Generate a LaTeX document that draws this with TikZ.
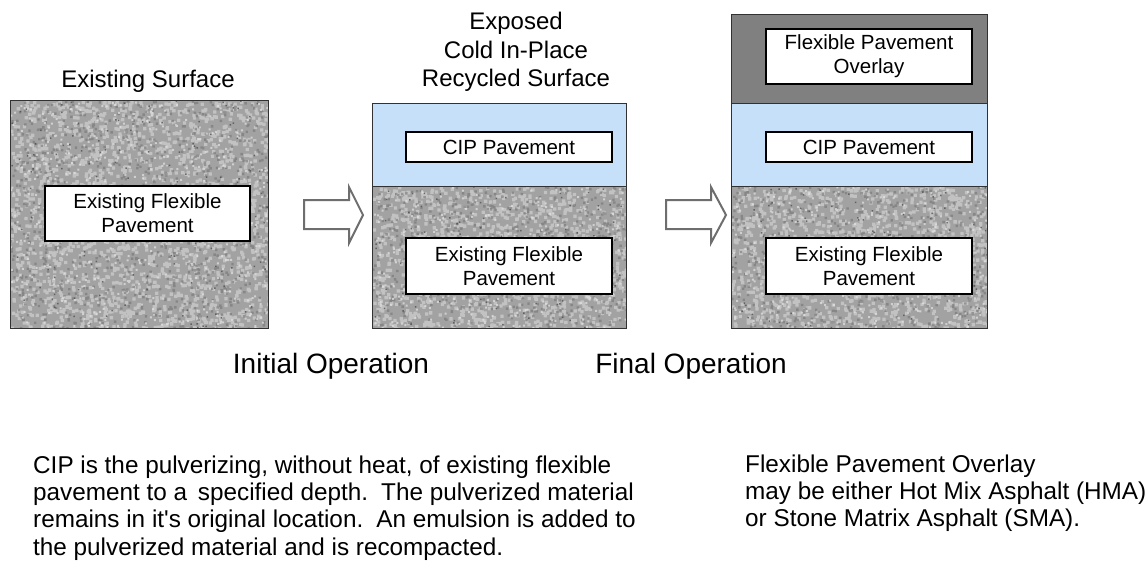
\documentclass[tikz,border=0pt]{standalone}
\usepackage{fontspec}
\setmainfont{Liberation Sans}
\newfontfamily\plainsans{Liberation Sans}
\definecolor{cipblue}{RGB}{198,224,250}
\definecolor{ovgray}{RGB}{128,128,128}
\definecolor{gbase}{RGB}{162,162,162}
\definecolor{glight}{RGB}{208,208,208}
\definecolor{glighter}{RGB}{228,228,228}
\definecolor{gdark}{RGB}{112,112,112}
\definecolor{gdarker}{RGB}{70,70,70}
\definecolor{edge}{RGB}{50,50,50}
\definecolor{arrowgray}{RGB}{110,110,110}
\newcommand{\grainfill}[5]{%
  \begin{scope}
    \clip (#1,#2) rectangle (#3,#4);
    \fill[gbase] (#1,#2) rectangle (#3,#4);
    \fill[glight, fill opacity=0.7] \foreach \k in {1,...,#5} {({#1+rnd*(#3-#1)},{#2+rnd*(#4-#2)}) rectangle ++(3.3,3.3)};
    \fill[gdark, fill opacity=0.55] \foreach \k in {1,...,\numexpr#5/2\relax} {({#1+rnd*(#3-#1)},{#2+rnd*(#4-#2)}) rectangle ++(2.4,2.4)};
    \fill[glighter, fill opacity=0.7] \foreach \k in {1,...,\numexpr#5*3/10\relax} {({#1+rnd*(#3-#1)},{#2+rnd*(#4-#2)}) rectangle ++(2,2)};
    \fill[gdarker, fill opacity=0.7] \foreach \k in {1,...,\numexpr#5/12\relax} {({#1+rnd*(#3-#1)},{#2+rnd*(#4-#2)}) rectangle ++(1.5,1.5)};
  \end{scope}}
\tikzset{
  lbl/.style={draw=black, line width=1.1pt, fill=white, inner sep=0pt, align=center,
    font=\fontsize{20.5}{24}\selectfont, minimum width=206pt},
  layer/.style={draw=edge, line width=1pt},
  blockarrow/.style={draw=arrowgray, line width=2pt, fill=white, line join=miter},
  title/.style={align=center, font=\fontsize{24}{28.5}\selectfont, inner sep=0pt},
  optitle/.style={font=\fontsize{28}{32}\selectfont, inner sep=0pt},
  body/.style={align=left, font=\fontsize{24.3}{27.3}\selectfont, inner sep=0pt, anchor=base west}
}
\begin{document}
\begin{tikzpicture}[x=1pt,y=-1pt]
\useasboundingbox (0,0) rectangle (1145,560);
\pgfmathsetseed{7}
% panel 1
\grainfill{10}{100}{268}{328}{1960}
\draw[layer] (10,100) rectangle (268,328);
\node[lbl, minimum width=205pt, minimum height=55pt] (ef1) at (147.5,213.5) {Existing Flexible\\Pavement};
\node[title, anchor=base] (t1) at (148,87) {Existing Surface};
% panel 2
\fill[cipblue] (372,103) rectangle (626,186);
\grainfill{372}{186}{626}{328}{1200}
\draw[layer] (372,103) rectangle (626,186);
\draw[layer] (372,186) rectangle (626,328);
\node[lbl, minimum height=30pt] (cip2) at (509,147) {CIP Pavement};
\node[lbl, minimum height=56pt] (ef2) at (509,266) {Existing Flexible\\Pavement};
\node[title, anchor=base] (t2) at (516,29) {Exposed};
\node[title, anchor=base] (t2b) at (516,58) {Cold In-Place};
\node[title, anchor=base] (t2c) at (516,86) {Recycled Surface};
% panel 3
\fill[ovgray] (731,14) rectangle (987,103);
\fill[cipblue] (731,103) rectangle (987,186);
\grainfill{731}{186}{987}{328}{1200}
\draw[layer] (731,14) rectangle (987,103);
\draw[layer] (731,103) rectangle (987,186);
\draw[layer] (731,186) rectangle (987,328);
\node[lbl, minimum height=55pt] (ov3) at (869,56.5) {Flexible Pavement\\Overlay};
\node[lbl, minimum height=30pt] (cip3) at (869,147) {CIP Pavement};
\node[lbl, minimum height=56pt] (ef3) at (869,266) {Existing Flexible\\Pavement};
% arrows
\draw[blockarrow] (304,200) -- (349,200) -- (349,187) -- (363,215) -- (349,243) -- (349,229) -- (304,229) -- cycle;
\draw[blockarrow] (666,200) -- (711,200) -- (711,187) -- (726,215) -- (711,243) -- (711,229) -- (666,229) -- cycle;
% operation titles
\node[optitle, anchor=base] (op1) at (331,373) {Initial Operation};
\node[optitle, anchor=base] (op2) at (691,373) {Final Operation};
% descriptions (anchor base = last line's baseline)
\node[body] (d1) at (33,555) {CIP is the pulverizing, without heat, of existing flexible\\pavement to a\, specified depth.\, The pulverized material\\remains in it{\plainsans'}s original location.\, An emulsion is added to\\the pulverized material and is recompacted.};
\node[body] (d2) at (745,526.6) {Flexible Pavement Overlay\\may be either Hot Mix Asphalt (HMA)\\or Stone Matrix Asphalt (SMA).};
\end{tikzpicture}
\end{document}
